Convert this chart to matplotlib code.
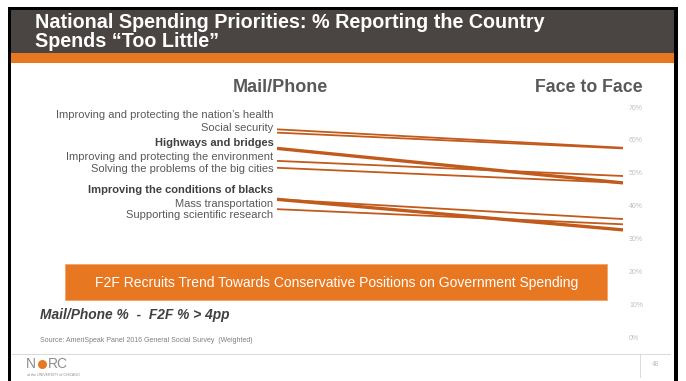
import matplotlib
matplotlib.use("Agg")
import matplotlib.pyplot as plt
from matplotlib.patches import Rectangle
from matplotlib.lines import Line2D

plt.rcParams["font.family"] = ["Liberation Sans", "DejaVu Sans"]

W, H = 686, 381

# share saying the country spends "too little", by mode
categories = [
    "Improving and protecting the nation\u2019s health",
    "Social security",
    "Highways and bridges",
    "Improving and protecting the environment",
    "Solving the problems of the big cities",
    "Improving the conditions of blacks",
    "Mass transportation",
    "Supporting scientific research",
]
mail_phone   = [63.2, 62.2, 57.4, 53.6, 51.5, 41.9, 41.9, 38.9]
face_to_face = [57.6, 57.4, 46.9, 49.0, 46.9, 32.6, 35.9, 34.3]
highlight    = ["Highways and bridges", "Improving the conditions of blacks"]
y_ticks      = [0, 10, 20, 30, 40, 50, 60, 70]

# label rows on the left (pixels from top)
label_rows = [115, 128.3, 142.7, 157.3, 169.3, 190, 204.3, 215]

LINE_C  = "#C25A1C"
ORANGE  = "#E87722"
HEADER  = "#4A4542"
TXT     = "#595959"


def fx(x):
    return x / W


def fy(y):
    return 1 - y / H


def box(x0, y0, x1, y1, **kw):
    fig.patches.append(Rectangle((fx(x0), fy(y1)), fx(x1) - fx(x0), fy(y0) - fy(y1),
                                 transform=fig.transFigure, **kw))


fig = plt.figure(figsize=(W / 100, H / 100), dpi=100)
fig.patch.set_facecolor("white")

# slide frame + header
box(8, 7, 678, 10, fc="black", ec="none")
box(8, 7, 11, 381, fc="black", ec="none")
box(674, 7, 678, 381, fc="black", ec="none")
box(11, 10, 674, 53, fc=HEADER, ec="none")
box(11, 53, 674, 63, fc=ORANGE, ec="none")

fig.text(fx(35), fy(22), "National Spending Priorities: % Reporting the Country",
         color="white", fontsize=14.2, fontweight="bold", va="center", ha="left")
fig.text(fx(35), fy(41.5), "Spends \u201cToo Little\u201d",
         color="white", fontsize=14.2, fontweight="bold", va="center", ha="left")

# slope chart
ax = fig.add_axes([fx(277), fy(337), fx(623) - fx(277), fy(107) - fy(337)])
ax.set_zorder(5)
ax.set_facecolor("none")
ax.set_xlim(0, 1)
ax.set_ylim(0, 70)
for s in ax.spines.values():
    s.set_visible(False)
ax.set_xticks([])
ax.yaxis.tick_right()
ax.set_yticks(y_ticks)
ax.set_yticklabels([str(v) + "%" for v in y_ticks])
ax.tick_params(axis="y", length=0, pad=4.3, labelsize=5, labelcolor="#BFBFBF")

for cat, a, b in zip(categories, mail_phone, face_to_face):
    lw = 2.4 if cat in highlight else 1.3
    ax.plot([0, 1], [a, b], color=LINE_C, lw=lw, solid_capstyle="butt")

for cat, yy in zip(categories, label_rows):
    bold = cat in highlight
    fig.text(fx(273.5), fy(yy), cat, ha="right", va="center",
             fontsize=8.0, color="#404040" if bold else TXT,
             fontweight="bold" if bold else "normal")

fig.text(fx(280), fy(87), "Mail/Phone", ha="center", va="center",
         fontsize=13, fontweight="bold", color="#595959")
fig.text(fx(643), fy(87), "Face to Face", ha="right", va="center",
         fontsize=12.8, fontweight="bold", color="#595959")

# callout box
box(65, 264, 607, 300, fc=ORANGE, ec="#F4A46A", lw=0.6)
fig.text(fx(337), fy(282.5),
         "F2F Recruits Trend Towards Conservative Positions on Government Spending",
         ha="center", va="center", fontsize=10, color="white")

fig.text(fx(40), fy(315), "Mail/Phone %  -  F2F % > 4pp", ha="left", va="center",
         fontsize=9.9, fontweight="bold", style="italic", color="#404040")
fig.text(fx(40), fy(341), "Source: AmeriSpeak Panel 2016 General Social Survey  (Weighted)",
         ha="left", va="center", fontsize=5.0, color="#7F7F7F")

# footer
fig.lines.append(Line2D([fx(12), fx(670)], [fy(354), fy(354)],
                        transform=fig.transFigure, color="#D9D9D9", lw=0.7))
fig.lines.append(Line2D([fx(640), fx(640)], [fy(354), fy(377)],
                        transform=fig.transFigure, color="#D9D9D9", lw=0.7))
fig.text(fx(656), fy(364.5), "48", ha="center", va="center", fontsize=4.8, color="#BFBFBF")

fig.text(fx(26), fy(364), "N", ha="left", va="center", fontsize=10, color="#8C8C8C")
fig.lines.append(Line2D([fx(42)], [fy(364)], transform=fig.transFigure, marker="o",
                        ms=6.5, mfc=ORANGE, mec="none", ls="none"))
fig.text(fx(47.5), fy(364), "RC", ha="left", va="center", fontsize=10, color="#8C8C8C")
fig.text(fx(27), fy(375.5), "at the UNIVERSITY of CHICAGO", ha="left", va="center",
         fontsize=2.6, color="#8C8C8C")

fig.savefig("out.png", dpi=100, facecolor="white")
